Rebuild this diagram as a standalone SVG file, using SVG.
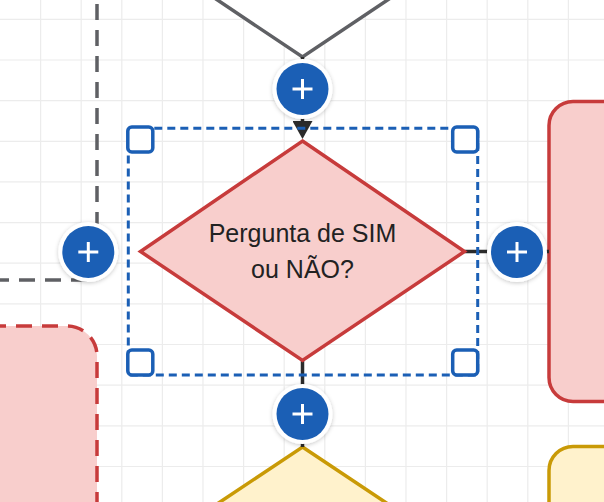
<svg xmlns="http://www.w3.org/2000/svg" width="604" height="502" viewBox="0 0 604 502">
  <defs>
    <style>
      .grid line { stroke: #ececec; stroke-width: 1.2; }
      .red { fill: #f8cecc; stroke: #c73b3b; stroke-width: 3.5; }
      .yellow { fill: #fff2cc; stroke: #c99a06; stroke-width: 3.5; }
      .gray { fill: #ffffff; stroke: #5f6064; stroke-width: 3.5; }
      .dash { stroke-dasharray: 16 10; }
      .conn { stroke: #2b2b2b; stroke-width: 3.5; fill: none; }
      .sel { fill: none; stroke: #1b5fb5; stroke-width: 3; stroke-dasharray: 8 5; }
      .handle { fill: #ffffff; stroke: #1b5fb5; stroke-width: 3.5; }
      .label { font-family: "Liberation Sans", Arial, sans-serif; font-size: 25px; fill: #222222; text-anchor: middle; }
      .plus-halo { fill: #ffffff; filter: url(#shadow); }
      .plus-core { fill: #1b5fb5; }
      .plus-sign { stroke: #ffffff; stroke-width: 3; stroke-linecap: butt; }
    </style>
    <filter id="shadow" x="-30%" y="-30%" width="160%" height="160%">
      <feDropShadow dx="0" dy="1" stdDeviation="2" flood-color="#000000" flood-opacity="0.22"/>
    </filter>
    <marker id="arrow" markerWidth="18" markerHeight="20" refX="8" refY="10" orient="auto" markerUnits="userSpaceOnUse" viewBox="0 0 18 20">
      <path d="M0 0 L18 10 L0 20 Z" fill="#2b2b2b"/>
    </marker>
  </defs>

  <rect width="604" height="502" fill="#ffffff"/>

  <g class="grid">
    <line x1="40.6" y1="0" x2="40.6" y2="502"/>
    <line x1="81.2" y1="0" x2="81.2" y2="502"/>
    <line x1="121.8" y1="0" x2="121.8" y2="502"/>
    <line x1="162.4" y1="0" x2="162.4" y2="502"/>
    <line x1="203" y1="0" x2="203" y2="502"/>
    <line x1="243.6" y1="0" x2="243.6" y2="502"/>
    <line x1="284.2" y1="0" x2="284.2" y2="502"/>
    <line x1="324.8" y1="0" x2="324.8" y2="502"/>
    <line x1="365.4" y1="0" x2="365.4" y2="502"/>
    <line x1="406" y1="0" x2="406" y2="502"/>
    <line x1="446.6" y1="0" x2="446.6" y2="502"/>
    <line x1="487.2" y1="0" x2="487.2" y2="502"/>
    <line x1="527.8" y1="0" x2="527.8" y2="502"/>
    <line x1="568.4" y1="0" x2="568.4" y2="502"/>
    <line x1="0" y1="19.3" x2="604" y2="19.3"/>
    <line x1="0" y1="60" x2="604" y2="60"/>
    <line x1="0" y1="100.6" x2="604" y2="100.6"/>
    <line x1="0" y1="141.3" x2="604" y2="141.3"/>
    <line x1="0" y1="181.9" x2="604" y2="181.9"/>
    <line x1="0" y1="222.6" x2="604" y2="222.6"/>
    <line x1="0" y1="263.2" x2="604" y2="263.2"/>
    <line x1="0" y1="303.9" x2="604" y2="303.9"/>
    <line x1="0" y1="344.5" x2="604" y2="344.5"/>
    <line x1="0" y1="385.2" x2="604" y2="385.2"/>
    <line x1="0" y1="425.8" x2="604" y2="425.8"/>
    <line x1="0" y1="466.5" x2="604" y2="466.5"/>
  </g>

  <g id="node-top-diamond">
    <path class="gray" d="M 210 -5 L 302.5 57 L 395 -5 Z"/>
  </g>

  <g id="node-left-group">
    <path d="M 97 0 V 280 H 0" fill="none" stroke="#5f6064" stroke-width="3.5" stroke-dasharray="16 10" stroke-dashoffset="22"/>
  </g>

  <g id="node-bottom-left-rect">
    <rect class="red dash" x="-40" y="326" width="137" height="260" rx="30"/>
  </g>

  <g id="node-right-rect">
    <rect class="red" x="549" y="101.5" width="100" height="300" rx="24"/>
  </g>

  <g id="node-bottom-right-rect">
    <rect class="yellow" x="549" y="446.5" width="100" height="120" rx="24"/>
  </g>

  <g id="node-bottom-diamond">
    <polygon class="yellow" points="302.5,447 467.5,557 302.5,667 137.5,557"/>
  </g>

  <g id="connectors">
    <line class="conn" x1="302.5" y1="57" x2="302.5" y2="129" marker-end="url(#arrow)"/>
    <line class="conn" x1="464.5" y1="251.5" x2="549" y2="251.5"/>
    <line class="conn" x1="302.5" y1="360.5" x2="302.5" y2="447"/>
  </g>

  <g id="node-decision">
    <polygon class="red" points="302.5,141 464.5,251.5 302.5,360.5 140.5,251.5"/>
    <text class="label" x="302.5" y="241.7">Pergunta de SIM</text>
    <text class="label" x="302.5" y="278.3">ou NÃO?</text>
  </g>

  <g id="selection">
    <rect class="sel" x="128.3" y="128.3" width="349.4" height="246.7"/>
    <rect class="handle" x="127.8" y="127" width="25" height="25" rx="4"/>
    <rect class="handle" x="452.7" y="127" width="25" height="25" rx="4"/>
    <rect class="handle" x="127.8" y="350" width="25" height="25" rx="4"/>
    <rect class="handle" x="452.7" y="350" width="25" height="25" rx="4"/>
  </g>

  <g id="plus-top">
    <circle class="plus-halo" cx="302.5" cy="89" r="30"/>
    <circle class="plus-core" cx="302.5" cy="89" r="26"/>
    <line class="plus-sign" x1="292.5" y1="89" x2="312.5" y2="89"/>
    <line class="plus-sign" x1="302.5" y1="79" x2="302.5" y2="99"/>
  </g>
  <g id="plus-left">
    <circle class="plus-halo" cx="88.3" cy="252" r="30"/>
    <circle class="plus-core" cx="88.3" cy="252" r="26"/>
    <line class="plus-sign" x1="78.3" y1="252" x2="98.3" y2="252"/>
    <line class="plus-sign" x1="88.3" y1="242" x2="88.3" y2="262"/>
  </g>
  <g id="plus-right">
    <circle class="plus-halo" cx="517" cy="252" r="30"/>
    <circle class="plus-core" cx="517" cy="252" r="26"/>
    <line class="plus-sign" x1="507" y1="252" x2="527" y2="252"/>
    <line class="plus-sign" x1="517" y1="242" x2="517" y2="262"/>
  </g>
  <g id="plus-bottom">
    <circle class="plus-halo" cx="302.5" cy="414" r="30"/>
    <circle class="plus-core" cx="302.5" cy="414" r="26"/>
    <line class="plus-sign" x1="292.5" y1="414" x2="312.5" y2="414"/>
    <line class="plus-sign" x1="302.5" y1="404" x2="302.5" y2="424"/>
  </g>
</svg>
